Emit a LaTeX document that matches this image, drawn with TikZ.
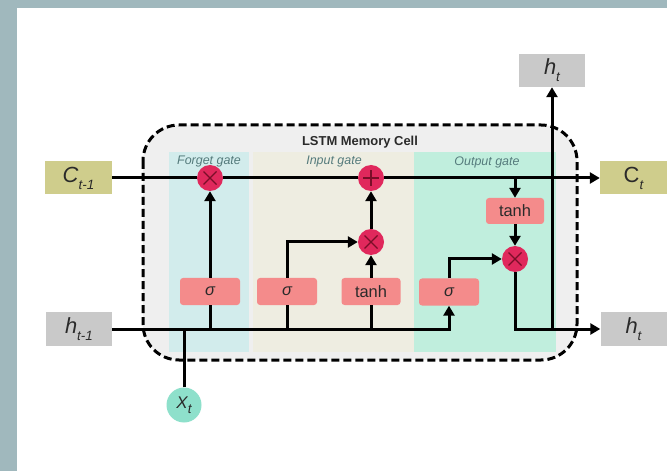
\documentclass[tikz,border=0pt]{standalone}
\usepackage{fontspec}
\setmainfont{Liberation Sans}
\usetikzlibrary{arrows.meta}
\definecolor{framec}{HTML}{A0B8BD}
\definecolor{cellfill}{HTML}{EFEFEF}
\definecolor{forgetz}{HTML}{D2ECEC}
\definecolor{inputz}{HTML}{EEEDE1}
\definecolor{outputz}{HTML}{C0EEDD}
\definecolor{cboxc}{HTML}{CFCD8C}
\definecolor{hboxc}{HTML}{C9C9C9}
\definecolor{gatec}{HTML}{F48B8B}
\definecolor{opc}{HTML}{E0285C}
\definecolor{opline}{HTML}{7A0E28}
\definecolor{xtc}{HTML}{8EE0CB}
\definecolor{zlab}{HTML}{557B7C}
\definecolor{txt}{HTML}{2A2A2A}
\newcommand{\mylbl}[2]{#1\raisebox{-0.32em}{\fontsize{13.5}{13.5}\selectfont #2}}
\begin{document}
\begin{tikzpicture}[x=1bp,y=-1bp,
  conn/.style={line width=3bp, black},
  arr/.style={conn, -{Triangle[length=10bp,width=11bp]}},
  cellborder/.style={line width=3bp, dash pattern=on 8bp off 4bp, rounded corners=36bp},
  cbox/.style={fill=cboxc, minimum width=67bp, minimum height=33bp, inner sep=0pt, text=txt, font=\fontsize{22}{22}\selectfont},
  hbox/.style={fill=hboxc, minimum width=66bp, minimum height=33bp, inner sep=0pt, text=txt, font=\fontsize{22}{22}\selectfont},
  gatebox/.style={fill=gatec, rounded corners=3bp, minimum width=60bp, minimum height=27bp, inner sep=0pt, text=txt, font=\fontsize{16.5}{16.5}\selectfont},
  opnode/.style={circle, fill=opc, minimum size=26bp, inner sep=0pt},
  mulop/.style={opnode, path picture={
     \draw[opline, line width=1.3bp] ([shift={(-6.5bp,-6.5bp)}]path picture bounding box.center) -- ([shift={(6.5bp,6.5bp)}]path picture bounding box.center);
     \draw[opline, line width=1.3bp] ([shift={(-6.5bp,6.5bp)}]path picture bounding box.center) -- ([shift={(6.5bp,-6.5bp)}]path picture bounding box.center);}},
  addop/.style={opnode, path picture={
     \draw[opline, line width=1.5bp] ([shift={(-8bp,0bp)}]path picture bounding box.center) -- ([shift={(8bp,0bp)}]path picture bounding box.center);
     \draw[opline, line width=1.5bp] ([shift={(0bp,-8bp)}]path picture bounding box.center) -- ([shift={(0bp,8bp)}]path picture bounding box.center);}},
  zlabel/.style={text=zlab, font=\fontsize{12.5}{12.5}\selectfont\itshape, inner sep=0pt},
  titlelbl/.style={text=txt, font=\fontsize{13}{13}\selectfont\bfseries, inner sep=0pt}
]
\useasboundingbox (0,0) rectangle (667,471);
\fill[framec] (0,0) rectangle (667,471);
\fill[white] (17,8) rectangle (667,471);
% memory cell
\fill[cellfill, rounded corners=36bp] (143,125) rectangle (577,360);
\fill[forgetz] (169,152) rectangle (249,352);
\fill[inputz] (253,152) rectangle (414,352);
\fill[outputz] (414,152) rectangle (556,352);
\draw[cellborder] (143,125) rectangle (577,360);
\node[titlelbl] (title) at (360,142) {LSTM Memory Cell};
\node[zlabel] (lf) at (209,162) {Forget gate};
\node[zlabel] (li) at (334,162) {Input gate};
\node[zlabel] (lo) at (487,162) {Output gate};
% inputs / outputs
\node[cbox] (cm1) at (78.5,178) {\itshape\mylbl{C}{t-1}};
\node[cbox] (ct) at (633.5,178) {C\itshape\raisebox{-0.32em}{\fontsize{13.5}{13.5}\selectfont t}};
\node[hbox] (hm1) at (79,329) {\itshape\mylbl{h}{t-1}};
\node[hbox] (hr) at (633.5,329) {\itshape\mylbl{h}{t}};
\node[hbox] (htop) at (552,70.5) {\itshape\mylbl{h}{t}};
\node[circle, fill=xtc, minimum size=35bp, inner sep=0pt, text=txt, font=\fontsize{17}{17}\selectfont\itshape] (xt) at (184,405) {\mylbl{X}{t}};
% gates
\node[gatebox] (s1) at (210,291.5) {\itshape σ};
\node[gatebox] (s2) at (287,291.5) {\itshape σ};
\node[gatebox, minimum width=59bp] (tn) at (371,291.5) {tanh};
\node[gatebox] (s3) at (449,292) {\itshape σ};
\node[gatebox, minimum width=58bp, minimum height=26bp] (otn) at (515,211) {tanh};
% operators
\node[mulop] (fx) at (210,178) {};
\node[addop] (plus) at (371,178) {};
\node[mulop] (ix) at (371,242) {};
\node[mulop] (ox) at (515,259) {};
% cell state line
\draw[conn] (cm1.east) -- (fx.west);
\draw[conn] (fx.east) -- (plus.west);
\draw[arr] (plus.east) -- (ct.west);
\coordinate (ctap) at (otn.north |- cm1.east);
\draw[arr] (ctap) -- (otn.north);
\draw[arr] (otn.south) -- (ox.north);
% hidden state line
\draw[arr] (hm1.east) -| (s3.south);
\draw[conn] (s1.south) -- (s1.south |- hm1.east);
\draw[conn] (s2.south) -- (s2.south |- hm1.east);
\draw[conn] (tn.south) -- (tn.south |- hm1.east);
\draw[conn] (xt.north) -- (xt.north |- hm1.east);
% gate outputs
\draw[arr] (s1.north) -- (fx.south);
\draw[arr] (s2.north) |- (ix.west);
\draw[arr] (tn.north) -- (ix.south);
\draw[arr] (ix.north) -- (plus.south);
\draw[arr] (s3.north) |- (ox.west);
\draw[arr] (ox.south) |- (hr.west);
\coordinate (hj) at (htop.south |- hr.west);
\draw[arr] (hj) -- (htop.south);
\end{tikzpicture}
\end{document}
